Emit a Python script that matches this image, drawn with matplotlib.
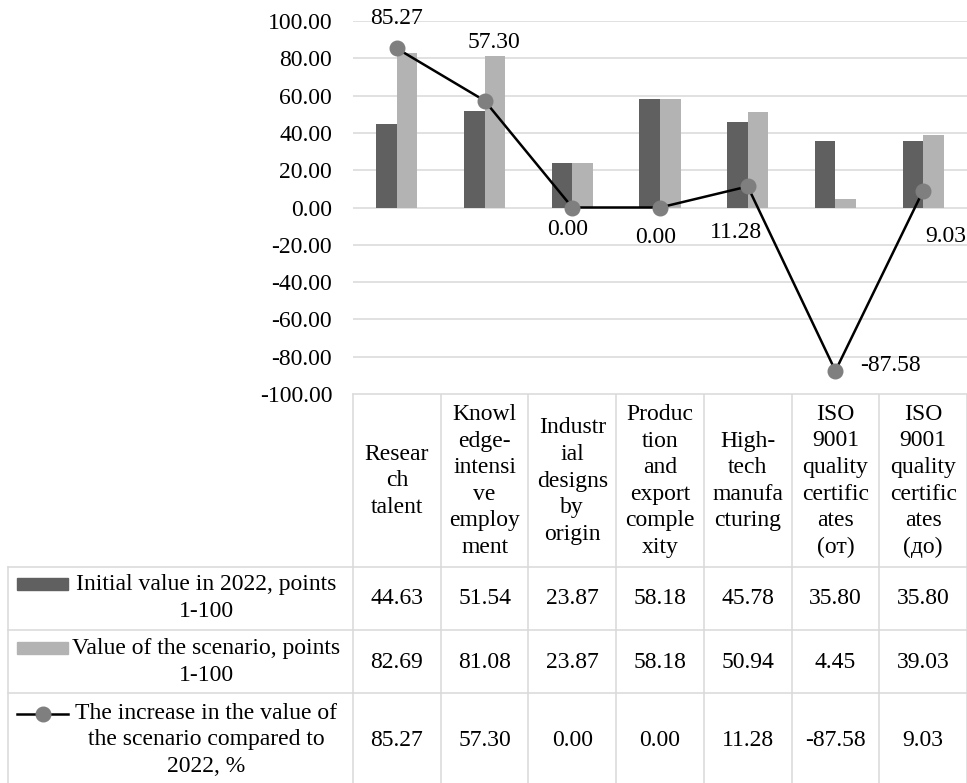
import numpy as np
import matplotlib
matplotlib.use("Agg")
import matplotlib.pyplot as plt
from matplotlib.patches import Rectangle

plt.rcParams['font.family'] = ['Liberation Serif', 'DejaVu Serif']

categories = [
    "Resear\nch\ntalent",
    "Knowl\nedge-\nintensi\nve\nemploy\nment",
    "Industr\nial\ndesigns\nby\norigin",
    "Produc\ntion\nand\nexport\ncomple\nxity",
    "High-\ntech\nmanufa\ncturing",
    "ISO\n9001\nquality\ncertific\nates\n(от)",
    "ISO\n9001\nquality\ncertific\nates\n(до)",
]
initial_2022 = [44.63, 51.54, 23.87, 58.18, 45.78, 35.80, 35.80]
scenario = [82.69, 81.08, 23.87, 58.18, 50.94, 4.45, 39.03]
increase = [85.27, 57.30, 0.00, 0.00, 11.28, -87.58, 9.03]
series_names = [
    "Initial value in 2022, points\n1-100",
    "Value of the scenario, points\n1-100",
    "The increase in the value of\nthe scenario compared to\n2022, %",
]
y_ticks = np.arange(-100, 101, 20)

# where each line label sits relative to its point, in pixels (dx, dy up)
label_offsets = [(0, 30), (9, 58), (-5, -22), (-4, -30), (-12, -46), (55, 5), (23, -46)]

DARK = '#606060'
LIGHT = '#b3b3b3'
MARK = '#7f7f7f'
GRID = '#d9d9d9'
FS = 17
LS = 1.35

W, H = 967, 783
fig = plt.figure(figsize=(W / 100, H / 100), dpi=100)

# overlay in pixel coordinates for the data table under the chart
tab = fig.add_axes([0, 0, 1, 1])
tab.set_xlim(0, W)
tab.set_ylim(H, 0)
tab.axis('off')
tab.patch.set_visible(False)

x0, x1 = 353, 967
ytop, ybot = 21, 394
ax = fig.add_axes([x0 / W, 1 - ybot / H, (x1 - x0) / W, (ybot - ytop) / H])

x = np.arange(len(categories))
bw = 0.234
ax.bar(x - bw / 2, initial_2022, bw, color=DARK, zorder=2)
ax.bar(x + bw / 2, scenario, bw, color=LIGHT, zorder=2)
ax.plot(x, increase, color='black', lw=1.8, marker='o', ms=10.5,
        mfc=MARK, mec=MARK, zorder=3)

for i, v in enumerate(increase):
    dx, dy = label_offsets[i]
    ax.annotate(f"{v:.2f}", (i, v), xytext=(dx * 0.72, dy * 0.72),
                textcoords='offset points', ha='center', va='center',
                fontsize=FS, annotation_clip=False)

ax.set_xlim(-0.5, len(categories) - 0.5)
ax.set_ylim(-100, 100)
ax.set_yticks(y_ticks)
ax.set_yticklabels([f"{v:.2f}" for v in y_ticks])
ax.set_xticks([])
ax.yaxis.grid(True, color=GRID, lw=1.1)
ax.set_axisbelow(True)
ax.tick_params(axis='y', length=0, pad=15, labelsize=FS)
for s in ax.spines.values():
    s.set_visible(False)

# table grid
col_w = (x1 - x0) / len(categories)
col_edges = x0 + col_w * np.arange(len(categories) + 1)
row_lines = [567, 630, 693]
row_centers = [598, 662, 740]
line_px = 27.4
lkw = dict(color=GRID, lw=1.1)

tab.plot([x0, W], [ybot, ybot], **lkw)
for cx in col_edges:
    tab.plot([cx, cx], [ybot, H], **lkw)
for ry in row_lines:
    tab.plot([8, W], [ry, ry], **lkw)
tab.plot([8, 8], [row_lines[0], H], **lkw)

# header with category names
for i, cat in enumerate(categories):
    tab.text(col_edges[i] + col_w / 2, 481, cat, ha='center', va='center',
             fontsize=FS, linespacing=LS)

# values
for r, vals in enumerate([initial_2022, scenario, increase]):
    for i, v in enumerate(vals):
        tab.text(col_edges[i] + col_w / 2, row_centers[r], f"{v:.2f}",
                 ha='center', va='center', fontsize=FS)

# series names with keys
for r, name in enumerate(series_names):
    n = name.count('\n') + 1
    tab.text(206, row_centers[r], name, ha='center', va='center',
             multialignment='center', fontsize=FS, linespacing=LS)
    first = row_centers[r] - (n - 1) * line_px / 2
    if r < 2:
        tab.add_patch(Rectangle((17, first - 6), 51, 12,
                                color=DARK if r == 0 else LIGHT))
    else:
        tab.plot([17, 68], [first + 1, first + 1], color='black', lw=1.8)
        tab.plot([42.5], [first + 1], marker='o', ms=10.5, mfc=MARK, mec=MARK)

fig.savefig('out.png', dpi=100)
